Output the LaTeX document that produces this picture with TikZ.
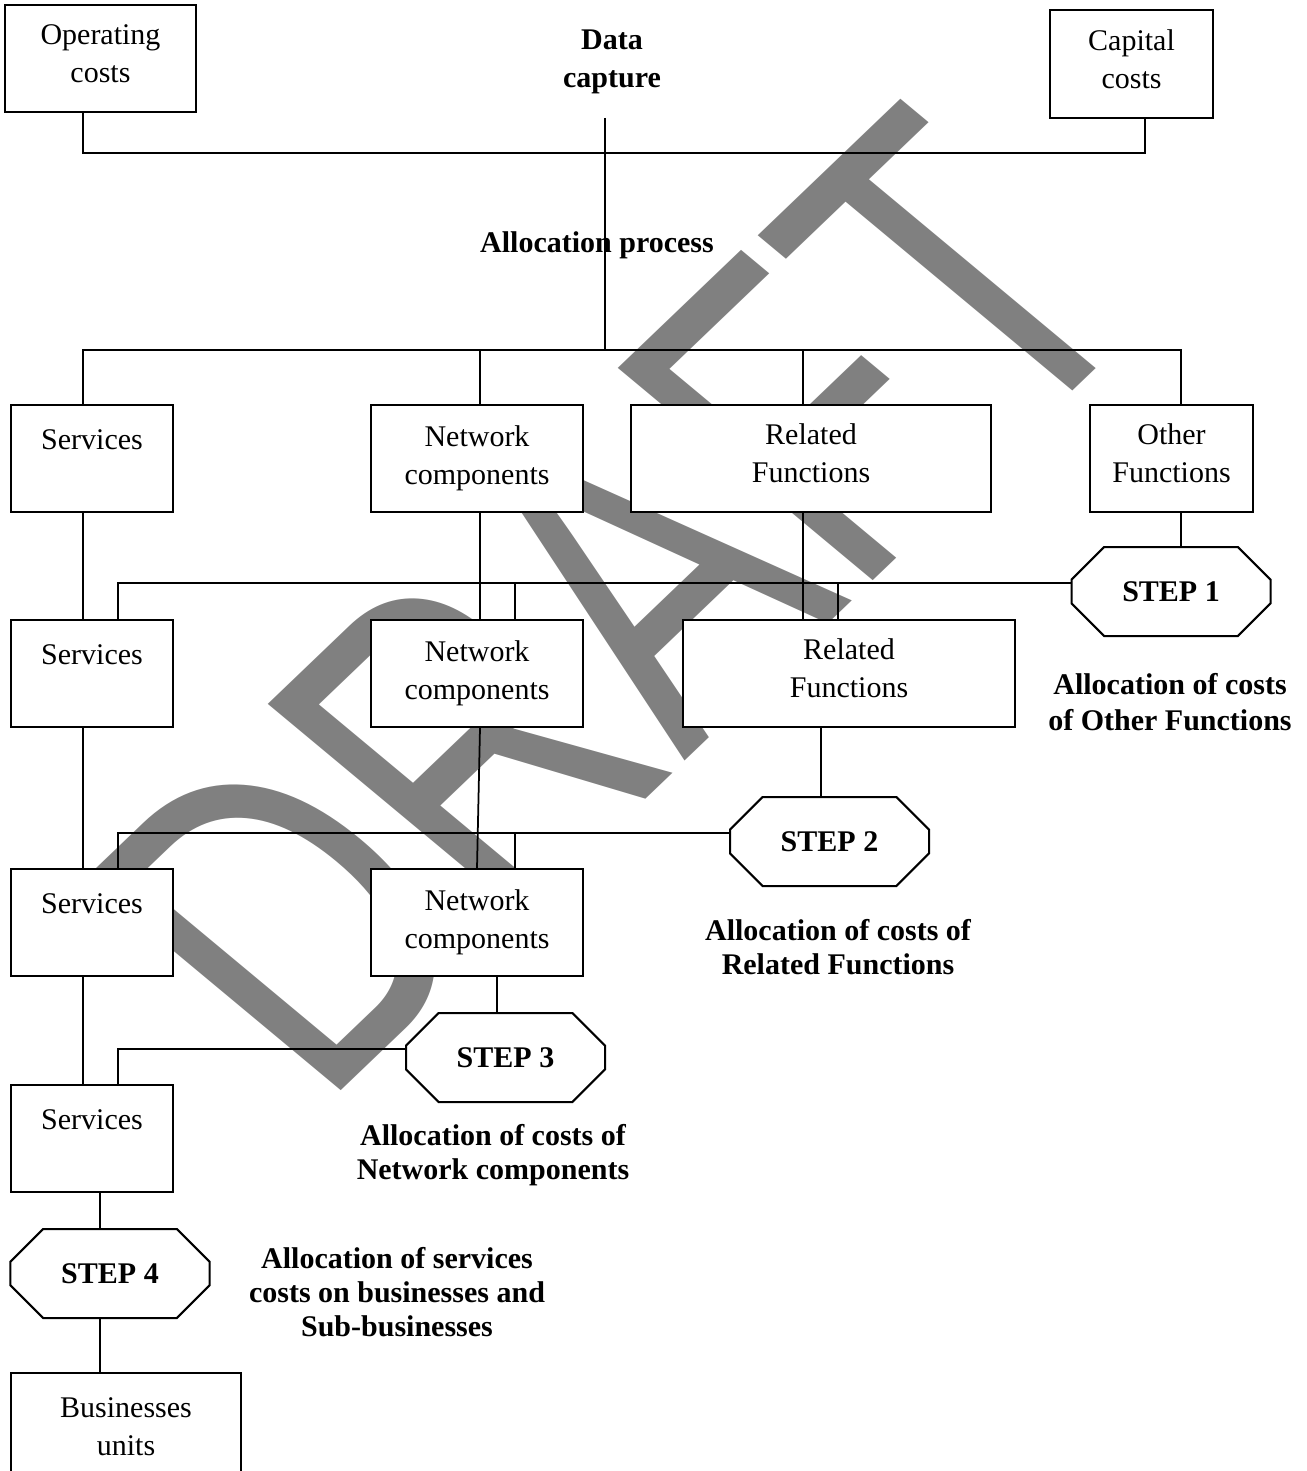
\documentclass[tikz,border=0pt]{standalone}
\usepackage{fontspec}
\setmainfont{Liberation Serif}
\newfontfamily\draftfont{Liberation Sans}
\usetikzlibrary{positioning,shapes.misc}
\definecolor{draftgray}{RGB}{128,128,128}

\begin{document}
\begin{tikzpicture}[x=0.4pt,y=-0.4pt,every node/.style={align=center,inner sep=0pt,font=\fontsize{12}{15.2}\selectfont},box/.style={draw,line width=0.8pt,fill=white,rectangle,minimum height=42.8pt},stepbox/.style={draw,line width=0.8pt,fill=white,chamfered rectangle,chamfered rectangle ysep=10pt,minimum width=79.6pt,minimum height=35.6pt,font=\bfseries\fontsize{12}{15}\selectfont},note/.style={font=\bfseries\fontsize{12}{13.6}\selectfont},draftmark/.style={text=draftgray,font=\draftfont\fontsize{181}{181}\selectfont,rotate=47,xscale=0.73,transform shape},wire/.style={line width=0.7pt}]
\useasboundingbox (0,0) rectangle (1306,1471);
% watermark
\begin{scope}
\clip (0,0) rectangle (1306,1108);
\begin{scope}[xscale=1.12]
\node[draftmark] (draft) at (547.5,602) {DRAFT};
\end{scope}
\end{scope}
% data capture
\node[box,minimum width=76.4pt] (opcost) at (100.5,58.5) {Operating\\costs\\[-11pt]};
\node[box,minimum width=65.2pt,minimum height=43.2pt] (capcost) at (1131.5,64) {Capital\\costs\\[-11pt]};
\node[note,font=\bfseries\fontsize{12}{15.2}\selectfont] (datacap) at (612,62) {Data\\capture};
\node[note] (allocproc) at (597,245) {Allocation process};
% first row
\node[box,minimum width=64.8pt] (svc1) at (92,458.5) {Services\\~};
\node[box,minimum width=84.8pt] (net1) at (477,458.5) {Network\\components};
\node[box,minimum width=144pt] (rel1) at (811,458.5) {Related\\Functions\strut};
\node[box,minimum width=65.2pt] (oth1) at (1171.5,458.5) {Other\\Functions\strut};
\node[stepbox] (step1) at (1171,591.5) {STEP 1};
\node[note,font=\bfseries\fontsize{12}{14.4}\selectfont] (note1) at (1170,702) {Allocation of costs\\of Other Functions};
% second row
\node[box,minimum width=64.8pt] (svc2) at (92,673.5) {Services\\~};
\node[box,minimum width=84.8pt] (net2) at (477,673.5) {Network\\components};
\node[box,minimum width=132.8pt] (rel2) at (849,673.5) {Related\\Functions\strut};
\node[stepbox] (step2) at (829.5,841.5) {STEP 2};
\node[note] (note2) at (838,947) {Allocation of costs of\\Related Functions};
% third row
\node[box,minimum width=64.8pt] (svc3) at (92,922.5) {Services\\~};
\node[box,minimum width=84.8pt] (net3) at (477,922.5) {Network\\components};
\node[stepbox] (step3) at (505.5,1057.5) {STEP 3};
\node[note] (note3) at (493,1155) {Allocation of costs of\\Network components};
% last rows
\node[box,minimum width=64.8pt] (svc4) at (92,1138.5) {Services\\~};
\node[stepbox] (step4) at (110,1273.5) {STEP 4};
\node[note] (note4) at (397,1292) {Allocation of services\\costs on businesses and\\Sub-businesses};
\node[box,minimum width=92pt] (bunits) at (126,1426.5) {Businesses\\units};
% columns and rows of the wires
\coordinate (colA) at (83,0);
\coordinate (colB) at (480,0);
\coordinate (colC) at (803,0);
\coordinate (colD) at (1181,0);
\coordinate (colE) at (118,0);
\coordinate (colF) at (515,0);
\coordinate (colG) at (838,0);
\coordinate (colH) at (821,0);
\coordinate (colI) at (497,0);
\coordinate (colJ) at (100,0);
\coordinate (colK) at (1145,0);
\coordinate (colM) at (605,0);
\coordinate (rowA) at (0,153);
\coordinate (rowB) at (0,350);
\coordinate (rowC) at (0,583);
\coordinate (rowD) at (0,833);
\coordinate (rowE) at (0,1049);
\coordinate (dctop) at (605,118);
% wires
\draw[wire] (opcost.south -| colA) -- (colA |- rowA) -- (colK |- rowA) -- (capcost.south -| colK);
\draw[wire] (dctop) -- (colM |- rowB);
\draw[wire] (svc1.north -| colA) -- (colA |- rowB) -- (colD |- rowB) -- (oth1.north -| colD);
\foreach \c/\n in {colB/net1,colC/rel1} \draw[wire] (\n.north -| \c) -- (\c |- rowB);
\draw[wire] (svc1.south -| colA) -- (svc2.north -| colA) (svc2.south -| colA) -- (svc3.north -| colA) (svc3.south -| colA) -- (svc4.north -| colA);
\draw[wire] (net1.south -| colB) -- (net2.north -| colB);
\draw[wire] (rel1.south -| colC) -- (rel2.north -| colC);
\draw[wire] (oth1.south -| colD) -- (step1.north -| colD);
\draw[wire] (step1.west |- rowC) -- (colE |- rowC) -- (svc2.north -| colE);
\foreach \c/\n in {colF/net2,colG/rel2} \draw[wire] (\n.north -| \c) -- (\c |- rowC);
\draw[wire] (rel2.south -| colH) -- (step2.north -| colH);
\draw[wire] (step2.west |- rowD) -- (colE |- rowD) -- (svc3.north -| colE);
\draw[wire] (net3.north -| colF) -- (colF |- rowD);
\draw[wire] (net2.south -| colB) -- (net3.north);
\draw[wire] (net3.south -| colI) -- (step3.north -| colI);
\draw[wire] (step3.west |- rowE) -- (colE |- rowE) -- (svc4.north -| colE);
\draw[wire] (svc4.south -| colJ) -- (step4.north -| colJ) (step4.south -| colJ) -- (bunits.north -| colJ);
\end{tikzpicture}
\end{document}
